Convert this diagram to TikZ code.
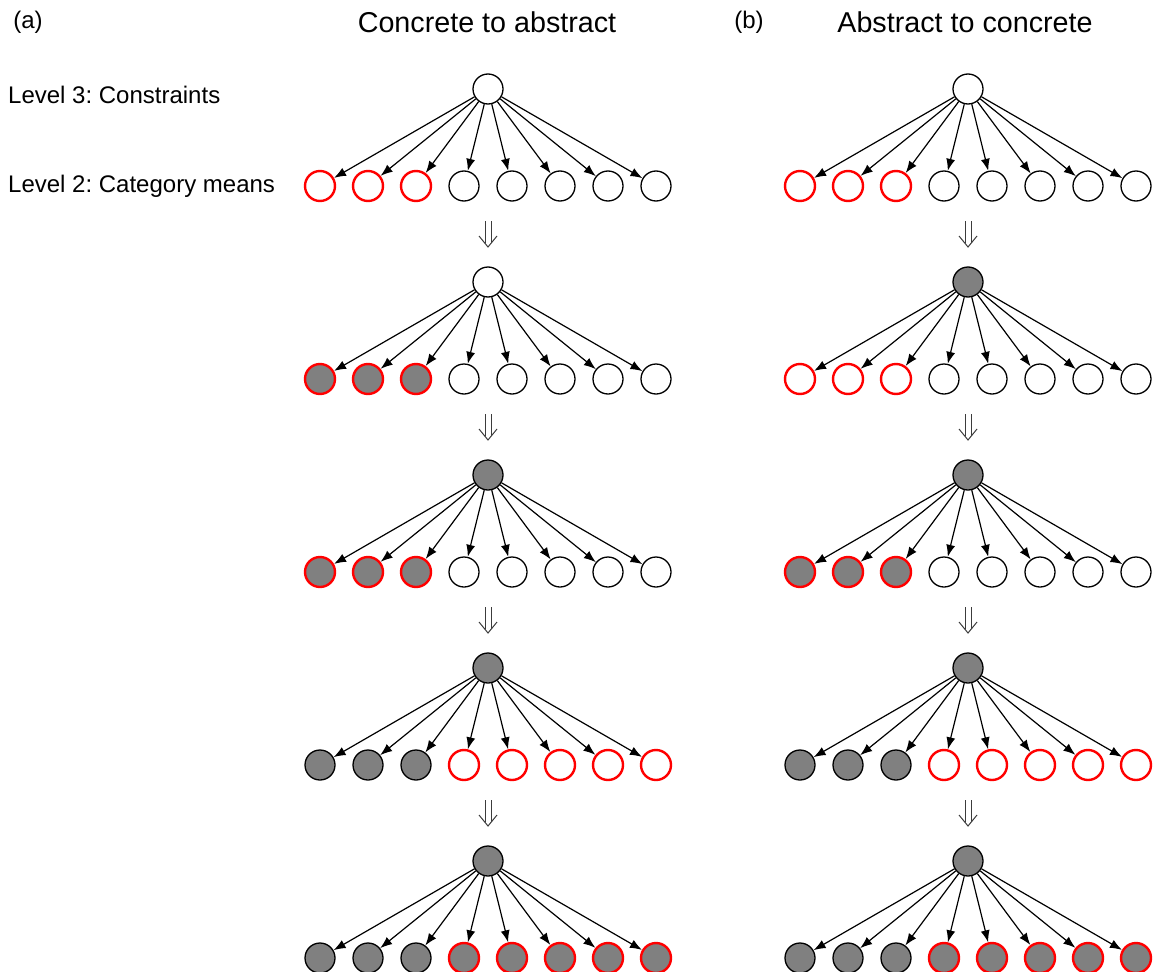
\documentclass[tikz,border=0pt]{standalone}
\usepackage{fontspec}
\setmainfont{Liberation Sans}
\usetikzlibrary{arrows.meta}
\frenchspacing
\definecolor{nodegray}{RGB}{128,128,128}
\definecolor{hintgray}{RGB}{60,60,60}
\tikzset{
  var/.style={circle, draw=black, line width=1.3pt, minimum size=30pt, inner sep=0pt},
  open/.style={var, fill=white},
  known/.style={var, fill=nodegray},
  newopen/.style={var, draw=red, line width=2.4pt, fill=white},
  newknown/.style={var, draw=red, line width=2.4pt, fill=nodegray},
  link/.style={line width=1.2pt, -{Latex[length=12pt,width=9pt]}},
  nextarrow/.style={hintgray, line width=1pt},
  label/.style={inner sep=0pt, font=\fontsize{24}{28}\selectfont},
  heading/.style={inner sep=0pt, font=\fontsize{28.7}{34}\selectfont}
}
% one constraint node with its eight category means below it
% #1 name prefix, #2 x of top node, #3 y of top node,
% #4 top style, #5 style of first three, #6 style of last five
\newcommand\treerow[6]{%
  \node[#4] (#1t) at (#2,#3) {};
  \foreach \k in {1,...,8}{
    \pgfmathsetmacro\xx{#2-168+48*(\k-1)}
    \ifnum\k<4
      \node[#5] (#1b\k) at (\xx,#3+97) {};
    \else
      \node[#6] (#1b\k) at (\xx,#3+97) {};
    \fi
    \draw[link] (#1t) -- (#1b\k);
  }%
}
% hollow double down arrow between stages
\newcommand\stepdown[2]{%
  \draw[nextarrow] (#1-3,#2-13) -- (#1-3,#2+9);
  \draw[nextarrow] (#1+3,#2-13) -- (#1+3,#2+9);
  \draw[nextarrow, line join=miter] (#1-9,#2+2) -- (#1,#2+13) -- (#1+9,#2+2);
}
\begin{document}
\begin{tikzpicture}[x=1pt, y=-1pt]
  \useasboundingbox (0,0) rectangle (1158,971);

  % headings and level labels
  \node[label] (pa) at (28,22) {(a)};
  \node[heading] (ha) at (487,22) {Concrete to abstract};
  \node[label] (pb) at (749,22) {(b)};
  \node[heading] (hb) at (965,22) {Abstract to concrete};
  \node[label, anchor=west] (l3) at (8,95) {Level 3: Constraints};
  \node[label, anchor=west] (l2) at (8,186) {Level 2: Category means};

  % (a) concrete to abstract
  \treerow{a1}{488}{89}{open}{newopen}{open}
  \treerow{a2}{488}{282}{open}{newknown}{open}
  \treerow{a3}{488}{475}{known}{newknown}{open}
  \treerow{a4}{488}{668}{known}{known}{newopen}
  \treerow{a5}{488}{861}{known}{known}{newknown}

  % (b) abstract to concrete
  \treerow{b1}{968}{89}{open}{newopen}{open}
  \treerow{b2}{968}{282}{known}{newopen}{open}
  \treerow{b3}{968}{475}{known}{newknown}{open}
  \treerow{b4}{968}{668}{known}{known}{newopen}
  \treerow{b5}{968}{861}{known}{known}{newknown}

  % stage transitions
  \foreach \yy in {234,427,620,813}{
    \stepdown{488}{\yy}
    \stepdown{968}{\yy}
  }
\end{tikzpicture}
\end{document}
